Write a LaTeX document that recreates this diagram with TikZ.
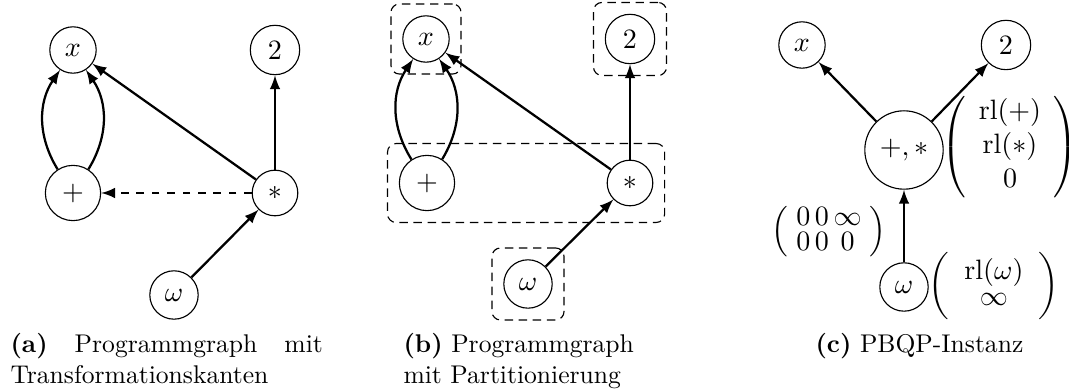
\documentclass[tikz,border=0pt]{standalone}
\usepackage{amsmath}
\usetikzlibrary{fit,arrows}
\begin{document}
\begin{tikzpicture}[x=0.390625pt,y=-0.390625pt,
  gfont/.style={font=\fontsize{11}{13.2}\selectfont},
  vertex/.style={circle,draw,line width=0.44pt,inner sep=3.667pt,gfont},
  edge/.style={line width=0.88pt,-latex},
  part/.style={draw,line width=0.44pt,dash pattern=on 3.3pt off 2.2pt,rounded corners=3.3pt,inner sep=4.4pt},
  mlabel/.style={gfont,inner sep=0pt},
  subcap/.style={anchor=base west,inner sep=0pt,text width=#1}]
\useasboundingbox (0,0) rectangle (1069,392);

% (a) program graph with transformation edges
\node[vertex] (ax) at (73,50)   {$x$};
\node[vertex] (a2) at (275,50)  {$2$};
\node[vertex] (ap) at (73,193)  {$+$};
\node[vertex] (as) at (275,193) {$*$};
\node[vertex] (aw) at (174,295) {$\omega$};
\draw[edge] (ap) to[bend left=33] (ax);
\draw[edge] (ap) to[bend right=33] (ax);
\draw[edge] (as) -- (ax);
\draw[edge] (as) -- (a2);
\draw[edge,dashed] (as) -- (ap);
\draw[edge] (aw) -- (as);
\node[subcap=122pt,align=justify] (capa) at (10,353)
  {\textbf{(a)} Programmgraph mit Transformationskanten};

% (b) program graph with partitioning
\node[vertex] (bx) at (426,39)  {$x$};
\node[vertex] (b2) at (630,39)  {$2$};
\node[vertex] (bp) at (427,183) {$+$};
\node[vertex] (bs) at (630,183) {$*$};
\node[vertex] (bw) at (528,284) {$\omega$};
\node[part,fit=(bx)] (gx) {};
\node[part,fit=(b2)] (g2) {};
\node[part,fit=(bp)(bs)] (gps) {};
\node[part,fit=(bw)] (gw) {};
\draw[edge] (bp) to[bend left=33] (bx);
\draw[edge] (bp) to[bend right=33] (bx);
\draw[edge] (bs) -- (bx);
\draw[edge] (bs) -- (b2);
\draw[edge] (bw) -- (bs);
\node[subcap=110pt,align=left] (capb) at (403,353)
  {\textbf{(b)} Programmgraph\\mit Partitionierung};

% (c) PBQP instance
\node[vertex] (cx) at (802,45)  {$x$};
\node[vertex] (c2) at (1006,45) {$2$};
\node[vertex] (cps) at (904,150) {$+,*$};
\node[vertex] (cw) at (904,287) {$\omega$};
\draw[edge] (cps) -- (cx);
\draw[edge] (cps) -- (c2);
\draw[edge] (cw) -- (cps);
\node[mlabel] (vps) at (1010,147)
  {$\left(\begin{array}{c}\mathrm{rl}(+)\\\mathrm{rl}(*)\\0\end{array}\right)$};
\node[mlabel] (mwps) at (829,232)
  {$\renewcommand{\arraystretch}{0.6}\left(\begin{array}{@{\;}c@{\,}c@{\,}c@{\;}}0&0&\infty\\0&0&0\end{array}\right)$};
\node[mlabel] (vw) at (994,286)
  {$\left(\begin{array}{@{\hspace{6pt}}c@{\hspace{6pt}}}\mathrm{rl}(\omega)\\[-3pt]\infty\end{array}\right)$};
\node[subcap=110pt,align=left] (capc) at (815,353)
  {\textbf{(c)} PBQP-Instanz};
\end{tikzpicture}
\end{document}
